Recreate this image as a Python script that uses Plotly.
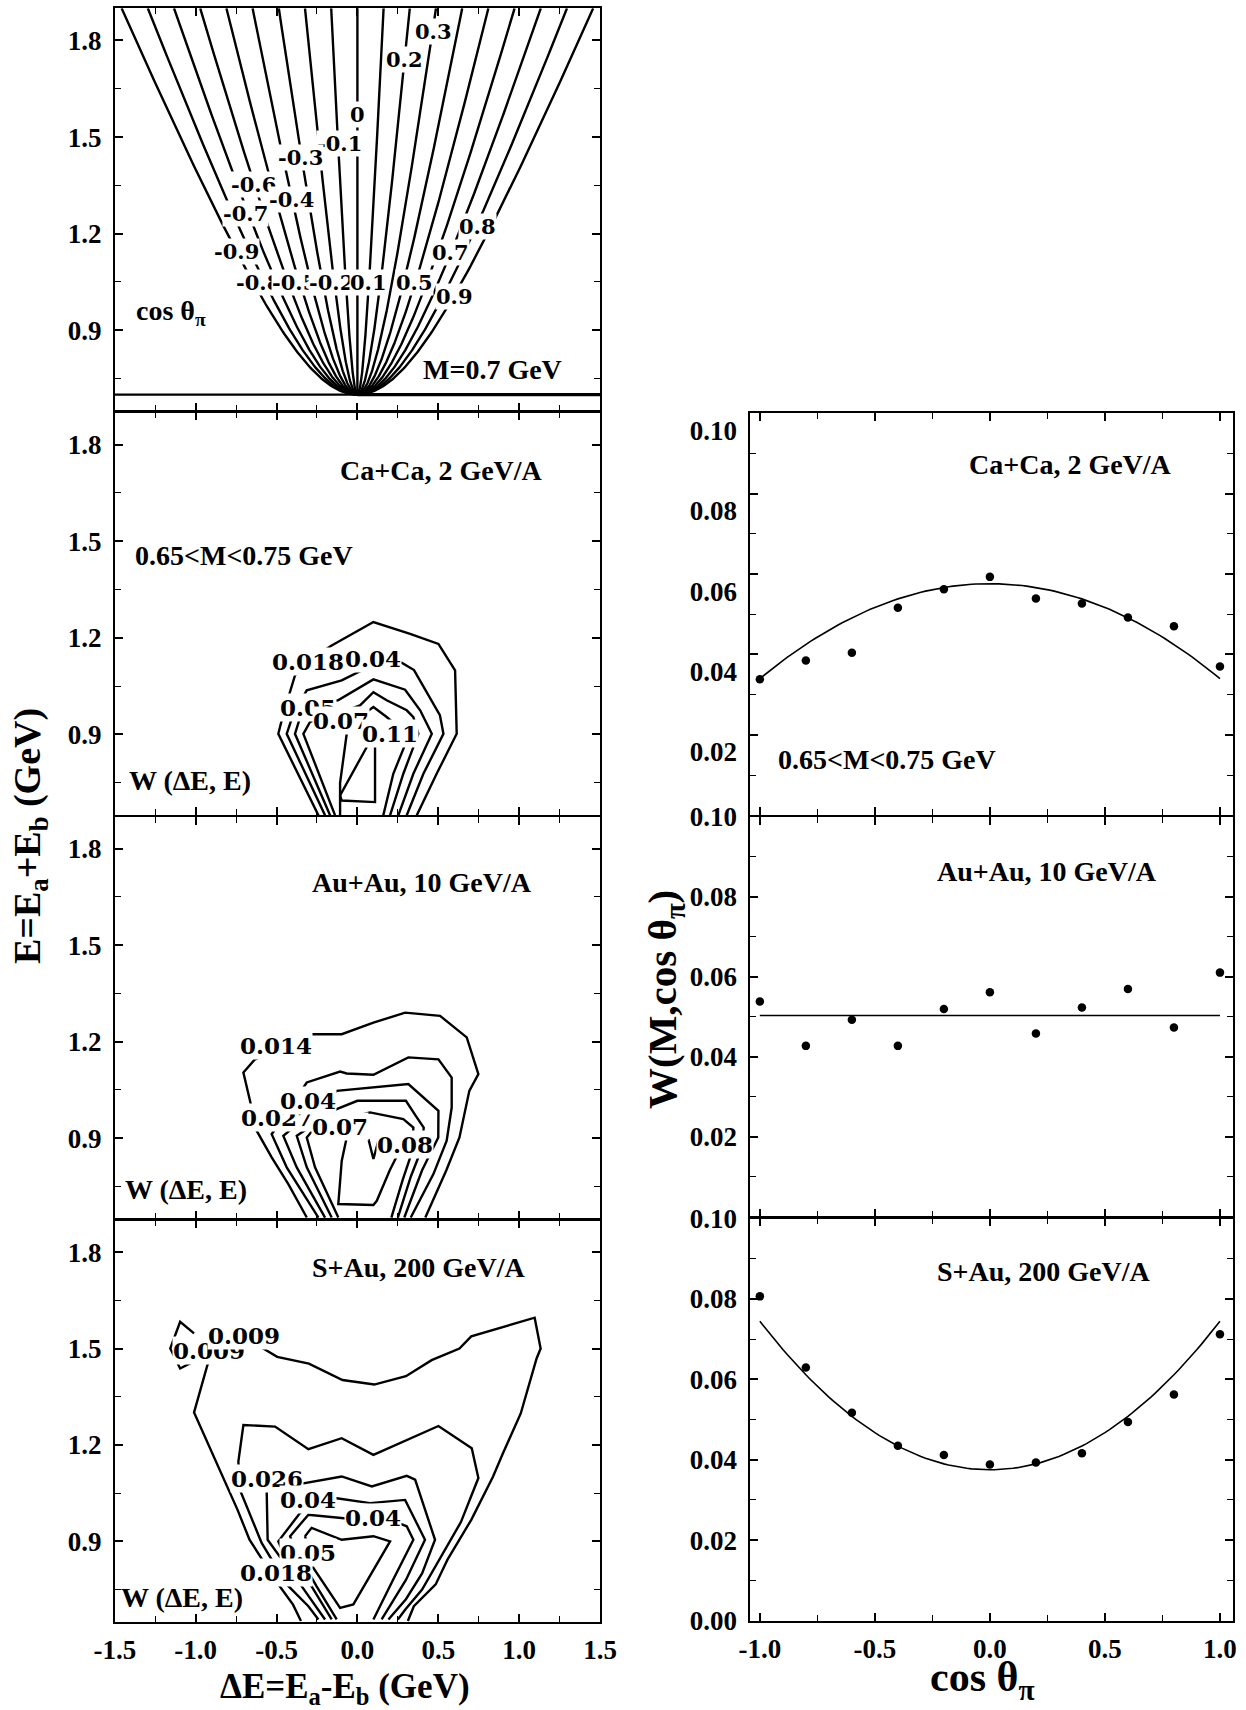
import numpy as np
import plotly.graph_objects as go

# ============================ DATA ============================
# --- top-left panel: kinematic lines of constant cos(theta_pi), M = 0.7 GeV
M_PAIR = 0.7          # GeV
M_PION = 0.1396       # GeV
E_TOP = 1.9           # GeV (upper edge of the E axis)
COS_LINES = [-0.9, -0.8, -0.7, -0.6, -0.5, -0.4, -0.3, -0.2, -0.1, 0.0,
             0.1, 0.2, 0.3, 0.4, 0.5, 0.6, 0.7, 0.8, 0.9]
COS_LINE_TEXT = ["0.3", "0.2", "0", "-0.1", "-0.3", "-0.6", "-0.4", "-0.7",
                 "-0.9", "0.8", "0.7", "-0.8", "-0.5", "-0.2", "0.1", "0.5", "0.9"]
COS_LINE_TX = [0.47, 0.29, 0.0, -0.11, -0.35, -0.645, -0.41, -0.69,
               -0.75, 0.74, 0.576, -0.609, -0.391, -0.159, 0.071, 0.356, 0.60]
COS_LINE_TY = [1.828, 1.74, 1.569, 1.48, 1.435, 1.352, 1.306, 1.264,
               1.145, 1.223, 1.14, 1.048, 1.048, 1.048, 1.048, 1.048, 1.006]

# --- Ca+Ca, 2 GeV/A : contour lines of W(dE, E)
CA_018_X = [-0.241, -0.489, -0.458, -0.416, -0.386, -0.300, -0.159, 0.099, 0.326, 0.501, 0.604, 0.614, 0.490, 0.367]
CA_018_Y = [0.649, 0.902, 0.964, 1.031, 1.083, 1.130, 1.176, 1.249, 1.212, 1.181, 1.099, 0.902, 0.778, 0.649]
CA_04_X = [-0.200, -0.437, -0.396, -0.313, -0.097, 0.027, 0.150, 0.274, 0.350, 0.440, 0.510, 0.532, 0.408, 0.305]
CA_04_Y = [0.649, 0.902, 0.964, 1.037, 1.068, 1.099, 1.120, 1.123, 1.100, 1.020, 0.960, 0.902, 0.778, 0.649]
CA_05_X = [-0.169, -0.386, -0.350, -0.250, -0.120, 0.099, 0.295, 0.388, 0.460, 0.346, 0.253]
CA_05_Y = [0.649, 0.902, 0.960, 1.000, 1.006, 1.071, 1.039, 0.975, 0.902, 0.778, 0.649]
CA_07_X = [-0.138, -0.334, -0.293, -0.150, 0.016, 0.099, 0.181, 0.305, 0.346, 0.377, 0.284, 0.202]
CA_07_Y = [0.649, 0.902, 0.939, 0.960, 0.990, 1.031, 1.006, 0.975, 0.954, 0.902, 0.778, 0.649]
CA_09_X = [-0.107, -0.107, -0.066, 0.000, 0.099, 0.181, 0.260, 0.305, 0.222, 0.160]
CA_09_Y = [0.649, 0.750, 0.902, 0.950, 0.985, 0.954, 0.920, 0.881, 0.778, 0.649]
CA_11_X = [0.058, -0.107, -0.097, 0.109, 0.109]
CA_11_Y = [0.861, 0.711, 0.695, 0.690, 0.861]
CA_LABELS = ["0.018", "0.04", "0.05", "0.07", "0.11"]
CA_LABEL_X = [-0.303, 0.095, -0.303, -0.103, 0.202]
CA_LABEL_Y = [1.125, 1.135, 0.985, 0.943, 0.902]

# --- Au+Au, 10 GeV/A
AU_014_X = [-0.313, -0.427, -0.530, -0.623, -0.664, -0.705, -0.633, -0.293, -0.097, 0.099, 0.295, 0.511, 0.676, 0.748, 0.692, 0.631, 0.550, 0.420]
AU_014_Y = [0.653, 0.757, 0.840, 0.923, 1.016, 1.104, 1.145, 1.223, 1.223, 1.259, 1.290, 1.280, 1.213, 1.099, 1.047, 0.902, 0.800, 0.653]
AU_027_X = [-0.241, -0.437, -0.530, -0.313, -0.107, -0.066, 0.099, 0.212, 0.315, 0.501, 0.583, 0.583, 0.552, 0.470, 0.330]
AU_027_Y = [0.653, 0.809, 0.912, 1.073, 1.107, 1.101, 1.097, 1.125, 1.151, 1.145, 1.088, 0.995, 0.892, 0.788, 0.653]
AU_04_X = [-0.200, -0.375, -0.458, -0.128, 0.315, 0.420, 0.501, 0.500, 0.400, 0.290]
AU_04_Y = [0.653, 0.809, 0.907, 1.047, 1.068, 1.020, 0.985, 0.902, 0.800, 0.653]
AU_05_X = [-0.159, -0.313, -0.375, -0.128, 0.000, 0.300, 0.360, 0.410, 0.400, 0.330, 0.250]
AU_05_Y = [0.653, 0.809, 0.907, 0.990, 1.016, 1.016, 0.970, 0.933, 0.870, 0.780, 0.653]
AU_07_X = [-0.118, -0.262, -0.313, -0.250, 0.078, 0.181, 0.284, 0.346, 0.340, 0.280, 0.210]
AU_07_Y = [0.653, 0.809, 0.902, 0.940, 0.980, 0.969, 0.959, 0.933, 0.860, 0.770, 0.653]
AU_08_X = [0.068, 0.099, 0.130]
AU_08_Y = [0.897, 0.835, 0.892]
AU_IN_X = [-0.066, -0.097, -0.118, 0.099, 0.120, 0.200, 0.260]
AU_IN_Y = [0.902, 0.829, 0.695, 0.692, 0.705, 0.800, 0.860]
AU_LABELS = ["0.014", "0.027", "0.04", "0.07", "0.08"]
AU_LABEL_X = [-0.503, -0.499, -0.303, -0.107, 0.295]
AU_LABEL_Y = [1.187, 0.964, 1.016, 0.935, 0.881]

# --- S+Au, 200 GeV/A
S_009I_X = [-1.010, -1.096, -1.157, -1.096, -1.023]
S_009I_Y = [1.547, 1.583, 1.500, 1.438, 1.457]
S_009_X = [-0.349, -0.398, -0.496, -0.594, -0.667, -0.741, -0.851, -0.912, -1.010, -0.925, -0.631, -0.496, -0.300,
           -0.092, 0.104, 0.300, 0.459, 0.631, 0.704, 1.096, 1.133, 1.108, 1.010, 0.900, 0.839, 0.704, 0.557, 0.484,
           0.349, 0.312]
S_009_Y = [0.652, 0.703, 0.771, 0.848, 0.905, 0.998, 1.122, 1.195, 1.301, 1.453, 1.515, 1.474, 1.453,
           1.402, 1.388, 1.414, 1.464, 1.500, 1.538, 1.596, 1.500, 1.469, 1.298, 1.174, 1.102, 0.967, 0.843, 0.766,
           0.698, 0.652]
S_018_X = [-0.241, -0.303, -0.437, -0.592, -0.726, -0.736, -0.705, -0.509, -0.303, -0.097, 0.099, 0.501, 0.707,
           0.748, 0.640, 0.500, 0.400, 0.300, 0.250]
S_018_Y = [0.657, 0.698, 0.766, 0.895, 1.060, 1.148, 1.262, 1.257, 1.187, 1.221, 1.169, 1.259, 1.190,
           1.097, 0.960, 0.840, 0.750, 0.690, 0.657]
S_026_X = [-0.200, -0.344, -0.489, -0.555, -0.561, -0.313, -0.097, 0.089, 0.305, 0.357, 0.480, 0.400, 0.300, 0.192]
S_026_Y = [0.657, 0.760, 0.859, 0.905, 1.060, 1.083, 1.102, 1.071, 1.104, 1.092, 0.905, 0.800, 0.720, 0.657]
S_04A_X = [-0.159, -0.283, -0.458, -0.489, -0.355, -0.250, -0.138, 0.078, 0.295, 0.418, 0.300, 0.150]
S_04A_Y = [0.657, 0.760, 0.864, 0.900, 0.988, 1.030, 1.035, 1.019, 1.029, 0.905, 0.780, 0.657]
S_04B_X = [-0.128, -0.252, -0.395, -0.416, -0.303, -0.087, 0.264, 0.305, 0.346, 0.220, 0.099]
S_04B_Y = [0.657, 0.760, 0.885, 0.916, 0.983, 0.973, 0.955, 0.947, 0.905, 0.780, 0.657]
S_05_X = [-0.324, -0.283, -0.097, 0.099, 0.202, -0.025, -0.107, -0.272, -0.324]
S_05_Y = [0.916, 0.942, 0.905, 0.916, 0.900, 0.704, 0.693, 0.817, 0.916]
S_LABELS = ["0.009", "0.009", "0.026", "0.04", "0.04", "0.05", "0.018"]
S_LABEL_X = [-0.917, -0.704, -0.557, -0.307, 0.095, -0.307, -0.505]
S_LABEL_Y = [1.495, 1.541, 1.097, 1.029, 0.973, 0.864, 0.802]

# --- right column: W(M, cos theta_pi)
COS_BINS = [-1.0, -0.8, -0.6, -0.4, -0.2, 0.0, 0.2, 0.4, 0.6, 0.8, 1.0]
W_CA = [0.0338, 0.0385, 0.0404, 0.0516, 0.0562, 0.0593, 0.0539, 0.0527, 0.0492, 0.0470, 0.0370]
W_AU = [0.0538, 0.0427, 0.0492, 0.0427, 0.0519, 0.0561, 0.0458, 0.0523, 0.0569, 0.0473, 0.0610]
W_S = [0.0806, 0.0629, 0.0517, 0.0435, 0.0412, 0.0388, 0.0393, 0.0416, 0.0494, 0.0562, 0.0712]
# fitted curves  W = a + b * cos^2
FIT_CA = [0.0576, -0.0236]
FIT_AU = [0.0503, 0.0]
FIT_S = [0.0375, 0.0369]

# --- tick labels
E_TICKS = [0.9, 1.2, 1.5, 1.8]
DE_TICKS = [-1.5, -1.0, -0.5, 0.0, 0.5, 1.0, 1.5]
COS_TICKS = [-1.0, -0.5, 0.0, 0.5, 1.0]
W_TICKS = [0.00, 0.02, 0.04, 0.06, 0.08, 0.10]

# ============================ LAYOUT HELPERS ============================
FIG_W, FIG_H = 1246, 1710


def fx(p):
    return p / FIG_W


def fy(p):
    return 1 - p / FIG_H


LEFT_X = (114.8, 600.0)
RIGHT_X = (749.5, 1232.6)
LEFT_ROWS = [(8.3, 410.7), (412.3, 815.0), (816.5, 1218.5), (1220.0, 1621.7)]
RIGHT_ROWS = [(413.3, 815.2), (816.5, 1216.8), (1218.3, 1620.7)]

SERIF = "Liberation Serif"
LBLFONT = dict(family="DejaVu Serif", size=23, color="black", weight="bold")
TOPLBLFONT = dict(family="DejaVu Serif", size=21, color="black", weight="bold")
TXTFONT = dict(family=SERIF, size=28, color="black", weight="bold")
TICKFONT = dict(family=SERIF, size=27, color="black", weight="bold")

fig = go.Figure()
LW = 2.4


def add_line(x, y, ax, width=LW):
    fig.add_trace(go.Scatter(x=x, y=y, mode="lines", line=dict(color="black", width=width),
                             xaxis="x" + ax, yaxis="y" + ax, showlegend=False, hoverinfo="skip"))


# ---- top-left: kinematic lines
v_pi = np.sqrt(1 - 4 * M_PION ** 2 / M_PAIR ** 2)
t = np.linspace(0, 1, 160)
E_grid = M_PAIR + (E_TOP - M_PAIR) * t ** 2
for c in COS_LINES:
    dE = c * v_pi * np.sqrt(np.maximum(E_grid ** 2 - M_PAIR ** 2, 0))
    add_line(dE, E_grid, "")
add_line([-1.5, 0.0], [M_PAIR, M_PAIR], "", width=2.4)
add_line([0.0, 1.5], [M_PAIR, M_PAIR], "", width=3.4)

# ---- contour panels
for xs, ys in [(CA_018_X, CA_018_Y), (CA_04_X, CA_04_Y), (CA_05_X, CA_05_Y),
               (CA_07_X, CA_07_Y), (CA_09_X, CA_09_Y), (CA_11_X, CA_11_Y)]:
    add_line(xs, ys, "2")
for xs, ys in [(AU_014_X, AU_014_Y), (AU_027_X, AU_027_Y), (AU_04_X, AU_04_Y), (AU_05_X, AU_05_Y),
               (AU_07_X, AU_07_Y), (AU_08_X, AU_08_Y), (AU_IN_X, AU_IN_Y)]:
    add_line(xs, ys, "3")
for xs, ys in [(S_009I_X, S_009I_Y), (S_009_X, S_009_Y), (S_018_X, S_018_Y), (S_026_X, S_026_Y),
               (S_04A_X, S_04A_Y), (S_04B_X, S_04B_Y), (S_05_X, S_05_Y)]:
    add_line(xs, ys, "4")

# ---- right column
cgrid = np.linspace(-1, 1, 101)
for ax, W, fit in [("5", W_CA, FIT_CA), ("6", W_AU, FIT_AU), ("7", W_S, FIT_S)]:
    add_line(cgrid, fit[0] + fit[1] * cgrid ** 2, ax, width=1.6)
    fig.add_trace(go.Scatter(x=COS_BINS, y=W, mode="markers",
                             marker=dict(color="black", size=8.5, symbol="circle"),
                             xaxis="x" + ax, yaxis="y" + ax, showlegend=False, hoverinfo="skip"))


# ---- axes
def base_axis():
    return dict(showline=True, linewidth=2, linecolor="black", mirror="allticks",
                ticks="inside", ticklen=8, tickwidth=1.5, tickcolor="black", automargin=False,
                showgrid=False, zeroline=False, tickfont=TICKFONT)


layout_axes = {}
names = ["", "2", "3", "4"]
for i, (top, bot) in enumerate(LEFT_ROWS):
    n = names[i]
    xa = base_axis()
    xa.update(domain=[fx(LEFT_X[0]), fx(LEFT_X[1])], range=[-1.5, 1.5],
              tickmode="array", tickvals=DE_TICKS, ticktext=["%.1f" % v for v in DE_TICKS],
              showticklabels=(i == 3), anchor="y" + n, ticklabelstandoff=3,
              minor=dict(ticks="inside", ticklen=6, tickwidth=1.2, tickcolor="black",
                         tickmode="linear", tick0=-1.5, dtick=0.25))
    ya = base_axis()
    ya.update(domain=[fy(bot), fy(top)], range=[0.65, 1.9],
              tickmode="array", tickvals=E_TICKS, ticktext=["%.1f" % v for v in E_TICKS],
              anchor="x" + n, ticklabelstandoff=6,
              minor=dict(ticks="inside", ticklen=6, tickwidth=1.2, tickcolor="black",
                         tickmode="linear", tick0=0.75, dtick=0.15))
    layout_axes["xaxis" + n] = xa
    layout_axes["yaxis" + n] = ya

for j, (top, bot) in enumerate(RIGHT_ROWS):
    n = str(5 + j)
    xa = base_axis()
    xa.update(domain=[fx(RIGHT_X[0]), fx(RIGHT_X[1])], range=[-1.045, 1.055],
              tickmode="array", tickvals=COS_TICKS, ticktext=["%.1f" % v for v in COS_TICKS],
              showticklabels=(j == 2), anchor="y" + n, ticklabelstandoff=3,
              minor=dict(ticks="inside", ticklen=6, tickwidth=1.2, tickcolor="black",
                         tickmode="linear", tick0=-1.0, dtick=0.25))
    vals = W_TICKS if j == 2 else W_TICKS[1:]
    ya = base_axis()
    ya.update(domain=[fy(bot), fy(top)], range=[0.0, 0.10],
              tickmode="array", tickvals=vals, ticktext=["%.2f" % v for v in vals],
              anchor="x" + n, ticklabelstandoff=5,
              minor=dict(ticks="inside", ticklen=6, tickwidth=1.2, tickcolor="black",
                         tickmode="linear", tick0=0.0, dtick=0.01))
    if j == 0:
        ya.update(ticklabelshift=17)   # labels of this panel sit lower than their ticks
    layout_axes["xaxis" + n] = xa
    layout_axes["yaxis" + n] = ya

# ---- annotations
ann = []


def label(text, x, y, ax, font=LBLFONT, bg="white"):
    ann.append(dict(text=text, x=x, y=y, xref="x" + ax, yref="y" + ax, showarrow=False,
                    font=font, bgcolor=bg, borderpad=0, xanchor="center", yanchor="middle"))


for s, x, y in zip(COS_LINE_TEXT, COS_LINE_TX, COS_LINE_TY):
    label(s, x, y, "", TOPLBLFONT)
for s, x, y in zip(CA_LABELS, CA_LABEL_X, CA_LABEL_Y):
    label(s, x, y, "2")
for s, x, y in zip(AU_LABELS, AU_LABEL_X, AU_LABEL_Y):
    label(s, x, y, "3")
for s, x, y in zip(S_LABELS, S_LABEL_X, S_LABEL_Y):
    label(s, x, y, "4")

label("cos θ<sub>π</sub>", -1.155, 0.954, "", TXTFONT, None)
label("M=0.7 GeV", 0.837, 0.778, "", TXTFONT, None)
label("Ca+Ca, 2 GeV/A", 0.517, 1.719, "2", TXTFONT, None)
label("0.65&lt;M&lt;0.75 GeV", -0.704, 1.455, "2", TXTFONT, None)
label("W (ΔE, E)", -1.036, 0.757, "2", TXTFONT, None)
label("Au+Au, 10 GeV/A", 0.398, 1.694, "3", TXTFONT, None)
label("W (ΔE, E)", -1.059, 0.740, "3", TXTFONT, None)
label("S+Au, 200 GeV/A", 0.381, 1.753, "4", TXTFONT, None)
label("W (ΔE, E)", -1.084, 0.724, "4", TXTFONT, None)
label("Ca+Ca, 2 GeV/A", 0.35, 0.0873, "5", TXTFONT, None)
label("0.65&lt;M&lt;0.75 GeV", -0.448, 0.0139, "5", TXTFONT, None)
label("Au+Au, 10 GeV/A", 0.248, 0.0862, "6", TXTFONT, None)
label("S+Au, 200 GeV/A", 0.236, 0.0868, "7", TXTFONT, None)


def title(text, px, py, size, angle=0):
    ann.append(dict(text=text, x=fx(px), y=fy(py), xref="paper", yref="paper", showarrow=False,
                    textangle=angle, font=dict(family=SERIF, size=size, color="black", weight="bold"),
                    xanchor="center", yanchor="middle"))


title("E=E<sub>a</sub>+E<sub>b</sub> (GeV)", 30, 836, 38, -90)
title("ΔE=E<sub>a</sub>-E<sub>b</sub> (GeV)", 345, 1688, 35)
title("cos θ<sub>π</sub>", 982, 1680, 42)
title("W(M,cos θ<sub>π</sub>)", 665, 1000, 41, -90)

fig.update_layout(width=FIG_W, height=FIG_H, autosize=False,
                  margin=dict(l=0, r=0, t=0, b=0, pad=0, autoexpand=False),
                  paper_bgcolor="white", plot_bgcolor="white",
                  annotations=ann, showlegend=False, **layout_axes)

fig.write_html("out.html", config={"responsive": False, "displayModeBar": False},
               post_script="document.body.style.margin='0px';document.body.style.overflow='hidden';")
